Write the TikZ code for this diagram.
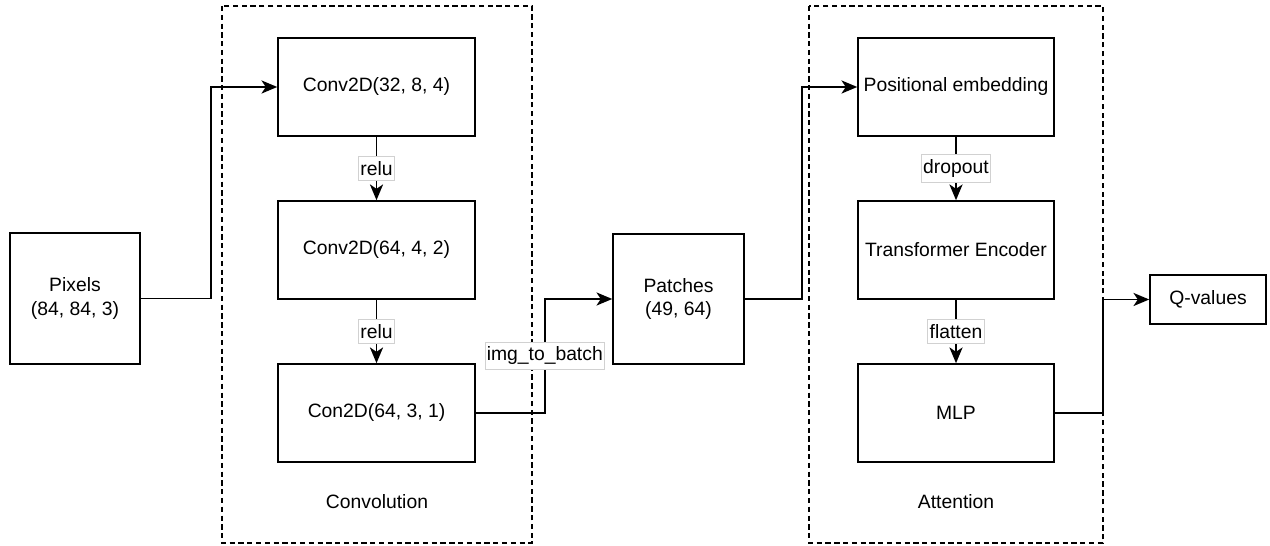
\documentclass[tikz,border=0pt]{standalone}
\usepackage{fontspec}
\setmainfont{Liberation Sans}
\usetikzlibrary{arrows.meta}

\tikzset{
	layer/.style={draw, line width=0.9pt, align=center, inner sep=0pt},
	convbox/.style={layer, minimum width=3.94cm, minimum height=1.96cm},
	attbox/.style={layer, minimum width=3.92cm, minimum height=1.96cm},
	lbl/.style={fill=white, draw=black!18, line width=0.5pt, inner xsep=1pt, inner ysep=2.6pt},
	grp/.style={line width=0.9pt, dash pattern=on 3pt off 2pt}
}

\begin{document}
\begin{tikzpicture}[line cap=butt,line join=miter,>={Stealth[length=9pt,width=7.5pt,inset=2.5pt]},x=0.02cm,y=-0.02cm,font=\fontsize{11}{13.5}\selectfont]
	\useasboundingbox (0,0) rectangle (1270,546);
	% groups
	\draw [grp] (222,6) rectangle (532,543);
	\draw [grp] (809,6) rectangle (1103,543);
	\node (convtxt) at (377,502) {Convolution};
	\node (atttxt) at (956,502) {Attention};
	% layers
	\node [layer, minimum width=2.6cm, minimum height=2.62cm] (pix) at (75,298.5) {Pixels\\(84, 84, 3)};
	\node [convbox] (conv1) at (376.5,87) {Conv2D(32, 8, 4)};
	\node [convbox] (conv2) at (376.5,250) {Conv2D(64, 4, 2)};
	\node [convbox] (conv3) at (376.5,413) {Con2D(64, 3, 1)};
	\node [layer, minimum width=2.62cm, minimum height=2.6cm] (patch) at (678.5,299) {Patches\\(49, 64)};
	\node [attbox] (pos) at (956,87) {Positional embedding};
	\node [attbox] (enc) at (956,250) {Transformer Encoder};
	\node [attbox] (mlp) at (956,413) {MLP};
	\node [layer, minimum width=2.32cm, minimum height=0.98cm] (qval) at (1208,299.5) {Q-values};
	% connectors
	\draw [line width=0.9pt,->] (pix.east) -- ++(70,0) |- (conv1.west);
	\draw [line width=0.9pt,->] (conv1) -- node [lbl] {relu} (conv2);
	\draw [line width=0.9pt,->] (conv2) -- node [lbl] {relu} (conv3);
	\draw [line width=0.9pt,->] (conv3.east) -- ++(69,0) |- node [lbl,pos=0.25] {img\_to\_batch} (patch.west);
	\draw [line width=0.9pt,->] (patch.east) -- ++(57,0) |- (pos.west);
	\draw [line width=0.9pt,->] (pos) -- node [lbl] {dropout} (enc);
	\draw [line width=0.9pt,->] (enc) -- node [lbl] {flatten} (mlp);
	\draw [line width=0.9pt,->] (mlp.east) -- ++(48,0) |- (qval.west);
\end{tikzpicture}
\end{document}
